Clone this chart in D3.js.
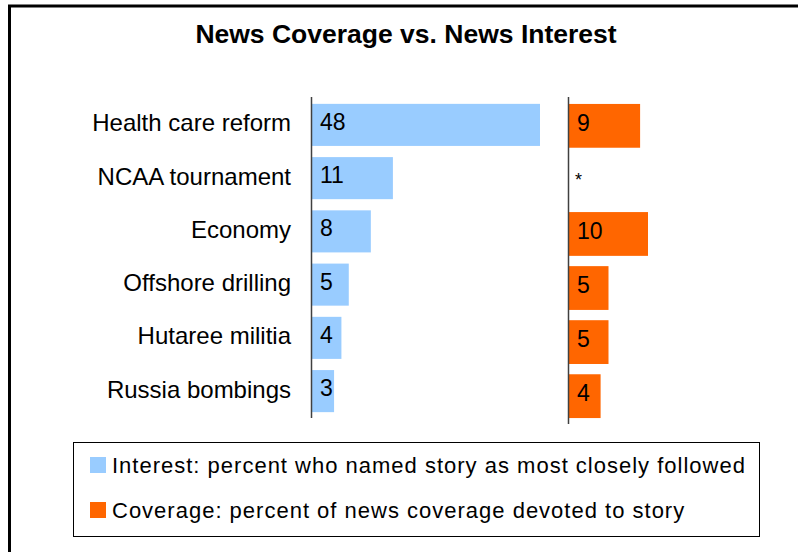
<!doctype html>
<html lang='en'>
<head>
    <meta charset='UTF-8'>
    <title>News Coverage vs. News Interest</title>
    <style>
        body {
            margin: 0;
            background: #fff;
        }

        text {
            font-family: 'Liberation Sans', Arial, sans-serif;
            fill: #000;
        }

        .title {
            font-size: 26.5px;
            font-weight: bold;
        }

        .cat {
            font-size: 24px;
        }

        .val {
            font-size: 23px;
        }

        .legend-text {
            font-size: 22px;
            letter-spacing: 1px;
        }
    </style>
</head>
<body>

<script src='https://d3js.org/d3.v7.min.js'></script>
<script>
  const categories = ['Health care reform', 'NCAA tournament', 'Economy', 'Offshore drilling', 'Hutaree militia', 'Russia bombings']
  const interest = [48, 11, 8, 5, 4, 3]
  const coverage = [9, null, 10, 5, 5, 4]
  const coverageLabels = ['9', '*', '10', '5', '5', '4']
  const legendLabels = [
    'Interest: percent who named story as most closely followed',
    'Coverage: percent of news coverage devoted to story'
  ]

  const w = 798, h = 552
  const blue = '#99CCFF', orange = '#FF6600'

  const svg = d3.select('body').append('svg')
    .attr('width', w)
    .attr('height', h)

  // outer frame (right and bottom edges fall outside the picture)
  svg.append('rect')
    .attr('x', 9.5)
    .attr('y', 6)
    .attr('width', 820)
    .attr('height', 580)
    .attr('fill', 'none')
    .attr('stroke', '#000')
    .attr('stroke-width', 3)

  svg.append('text')
    .attr('class', 'title')
    .attr('x', 406)
    .attr('y', 43)
    .attr('text-anchor', 'middle')
    .text('News Coverage vs. News Interest')

  //// Interest panel ////
  const yLeft = d3.scaleBand()
    .domain(categories)
    .range([98, 418])
    .paddingInner(0.21)
    .paddingOuter(0.11)

  // axis max is ~31, the 48 bar gets cut at the edge
  const xLeft = d3.scaleLinear()
    .domain([0, 31])
    .range([312, 540])
    .clamp(true)

  const left = svg.append('g')

  left.selectAll('rect')
    .data(interest)
    .enter()
    .append('rect')
    .attr('x', xLeft(0))
    .attr('y', (d, i) => yLeft(categories[i]))
    .attr('width', d => xLeft(d) - xLeft(0))
    .attr('height', yLeft.bandwidth())
    .attr('fill', blue)

  left.selectAll('text.val')
    .data(interest)
    .enter()
    .append('text')
    .attr('class', 'val')
    .attr('x', xLeft(0) + 8)
    .attr('y', (d, i) => yLeft(categories[i]) + yLeft.bandwidth() / 2 - 3)
    .attr('dominant-baseline', 'central')
    .text(d => d)

  left.selectAll('text.cat')
    .data(categories)
    .enter()
    .append('text')
    .attr('class', 'cat')
    .attr('x', 291)
    .attr('y', d => yLeft(d) + yLeft.bandwidth() / 2 - 2)
    .attr('text-anchor', 'end')
    .attr('dominant-baseline', 'central')
    .text(d => d)

  left.append('line')
    .attr('x1', 311.5).attr('x2', 311.5)
    .attr('y1', 97).attr('y2', 418)
    .attr('stroke', '#404040')
    .attr('stroke-width', 1.5)

  //// Coverage panel ////
  const yRight = d3.scaleBand()
    .domain(categories)
    .range([98, 424])
    .paddingInner(0.19)
    .paddingOuter(0.11)

  const xRight = d3.scaleLinear()
    .domain([0, 10])
    .range([569, 648])

  const right = svg.append('g')

  right.selectAll('rect')
    .data(coverage)
    .enter()
    .append('rect')
    .attr('x', xRight(0))
    .attr('y', (d, i) => yRight(categories[i]))
    .attr('width', d => d == null ? 0 : xRight(d) - xRight(0))
    .attr('height', yRight.bandwidth())
    .attr('fill', orange)

  right.selectAll('text.val')
    .data(coverageLabels)
    .enter()
    .append('text')
    .attr('class', 'val')
    .attr('x', d => xRight(0) + (d === '*' ? 6 : 8))
    .attr('y', (d, i) => yRight(categories[i]) + yRight.bandwidth() / 2 + (d === '*' ? 0 : -3))
    .attr('dominant-baseline', 'central')
    .style('font-size', d => d === '*' ? '18px' : null)
    .text(d => d)

  right.append('line')
    .attr('x1', 568.5).attr('x2', 568.5)
    .attr('y1', 97).attr('y2', 424)
    .attr('stroke', '#404040')
    .attr('stroke-width', 1.5)

  //// Legend ////
  const legend = svg.append('g')

  legend.append('rect')
    .attr('x', 73.5)
    .attr('y', 442.5)
    .attr('width', 686)
    .attr('height', 94)
    .attr('fill', 'none')
    .attr('stroke', '#000')
    .attr('stroke-width', 1)

  const legendY = d3.scalePoint()
    .domain(legendLabels)
    .range([465, 510])

  legend.selectAll('rect.key')
    .data(legendLabels)
    .enter()
    .append('rect')
    .attr('class', 'key')
    .attr('x', 90)
    .attr('y', d => legendY(d) - 8)
    .attr('width', 16)
    .attr('height', 16)
    .attr('fill', (d, i) => [blue, orange][i])

  legend.selectAll('text')
    .data(legendLabels)
    .enter()
    .append('text')
    .attr('class', 'legend-text')
    .attr('x', 112)
    .attr('y', d => legendY(d))
    .attr('dominant-baseline', 'central')
    .text(d => d)
</script>
</body>
</html>
